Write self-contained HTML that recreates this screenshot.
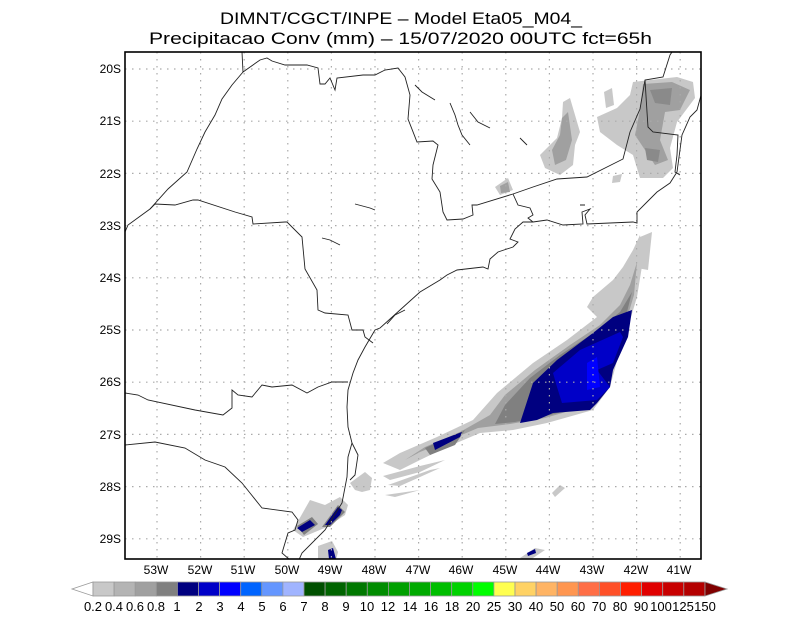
<!DOCTYPE html>
<html><head><meta charset="utf-8"><style>
html,body{margin:0;padding:0;background:#fff;width:800px;height:618px;overflow:hidden}
svg{display:block}
text{font-family:"Liberation Sans",sans-serif;fill:#000}
</style></head><body>
<svg width="800" height="618" viewBox="0 0 800 618" xmlns="http://www.w3.org/2000/svg">
<rect width="800" height="618" fill="#fff"/>
<text x="220" y="24" font-size="17" textLength="362" lengthAdjust="spacingAndGlyphs">DIMNT/CGCT/INPE –  Model Eta05_M04_</text>
<text x="149" y="44" font-size="17" textLength="503" lengthAdjust="spacingAndGlyphs">Precipitacao Conv (mm) – 15/07/2020 00UTC fct=65h</text>
<defs><clipPath id="c"><rect x="125" y="52" width="576" height="507"/></clipPath></defs>
<g clip-path="url(#c)">
<!-- precip north -->
<g fill="#c8c8c8">
<path d="M633,82 L677,77 693,82 695,98 677,122 670,148 673,168 663,178 640,178 633,155 617,145 600,132 597,117 617,108 630,95Z"/>
<path d="M563,102 L570,98 580,132 575,145 573,165 560,175 545,168 540,155 557,138 562,118Z"/>
<path d="M604,92 L612,88 614,105 606,108Z"/>
<path d="M495,187 L508,178 513,190 500,195Z"/>
<path d="M640,237 L652,232 648,270 637,268Z"/>
<path d="M613,176 L622,174 620,182 612,183Z"/>
</g>
<g fill="#a0a0a0">
<path d="M643,84 L672,82 690,90 680,110 665,112 660,140 668,160 655,165 645,150 635,135 640,110Z"/>
<path d="M562,118 L568,112 572,140 566,160 555,165 552,150 560,135Z"/>
<path d="M500,186 L508,182 510,192 501,193Z"/>
</g>
<g fill="#8a8a8a"><path d="M650,90 L672,88 670,105 655,103Z"/><path d="M645,148 L660,150 658,162 647,160Z"/></g>
<!-- big system -->
<path fill="#c8c8c8" d="M640,235 L643,260 637,297 628,327 620,350 610,387 593,410 547,423 513,430 480,433 447,447 420,460 400,470 383,463 400,453 437,437 473,420 497,393 533,363 567,340 597,317 587,307 593,297 613,280 623,267 633,250Z"/>
<path fill="#c8c8c8" d="M383,476 L420,466 445,460 420,472 390,480Z M388,485 L430,470 440,468 400,486Z M385,495 L420,490 395,497Z"/>
<path fill="#a0a0a0" d="M637,262 L634,295 625,325 615,355 605,390 590,405 545,418 510,424 478,428 445,442 420,452 405,460 425,447 460,432 490,415 505,395 535,370 570,345 600,325 620,305 630,285Z"/>
<path fill="#808080" d="M632,292 L625,320 615,350 605,385 590,405 550,415 515,422 495,424 505,405 530,378 560,355 595,332 620,312Z"/>
<path fill="#000080" d="M520,423 L533,383 557,360 593,333 613,317 632,310 628,337 613,370 610,387 597,403 590,410 553,413 537,420Z"/>
<path fill="#0000c8" d="M553,373 L580,350 620,332 623,337 613,363 597,370 610,387 597,400 562,403 557,387Z"/>
<path fill="#0000ff" d="M587,363 L597,357 600,387 587,390Z"/>
<path fill="#808080" d="M425,448 L465,430 455,445 430,455Z"/>
<path fill="#000080" d="M433,443 L462,432 460,437 435,450Z"/>
<!-- south -->
<g fill="#c8c8c8">
<path d="M350,483 L365,472 372,478 370,490 362,492 355,490Z"/>
<path d="M293,530 L310,500 325,505 340,497 348,505 345,515 327,527 303,537Z"/>
<path d="M318,546 L332,541 338,552 336,560 318,560Z"/>
<path d="M520,558 L535,548 545,550 530,560Z"/>
<path d="M552,493 L560,485 565,488 555,497Z"/>
</g>
<g fill="#808080"><path d="M297,526 L312,517 318,524 304,535Z"/><path d="M322,527 L338,505 345,512 330,527Z"/></g>
<g fill="#000080">
<path d="M297,528 L310,520 315,525 302,532Z"/>
<path d="M325,525 L338,507 342,510 340,515 330,525Z"/>
<path d="M328,550 L333,548 336,559 329,559Z"/>
<path d="M527,553 L535,549 536,553 528,556Z"/>
</g>
</g>
<!-- grid -->
<g stroke="#aaa" stroke-width="1.2" stroke-dasharray="1.5,5.5">
<path d="M157,52V559M200.6,52V559M244.2,52V559M287.8,52V559M331.4,52V559M375,52V559M418.6,52V559M462.2,52V559M505.8,52V559M549.4,52V559M593,52V559M636.6,52V559M680.2,52V559"/>
<path d="M125,69H701M125,121.2H701M125,173.4H701M125,225.6H701M125,277.8H701M125,330H701M125,382.2H701M125,434.4H701M125,486.6H701M125,538.8H701"/>
</g>
<!-- map lines -->
<g fill="none" stroke="#222" stroke-width="0.9" clip-path="url(#c)">
<path d="M242,52 L243,72 260,60 267,58 272,61 285,65 307,65 318,68 320,84 325,84 330,78 335,90 337,78 363,75 375,75 385,70 398,68 405,77 410,95 408,119 417,142 433,141 438,145 433,165 432,179 440,192 443,212 447,220 463,219 473,215 472,205 477,205 513,194 533,187 557,179 587,177 623,159 630,132 640,109 645,80 663,77 670,55 672,52"/>
<path d="M645,80 L647,112 648,127 653,132 678,135 677,155 675,172 680,175"/>
<path d="M703,88 L697,110 690,117 682,135 677,172 670,183 657,192 647,202 637,212 637,223 633,222 587,224 585,215 590,209 582,212 583,224 563,225 547,220 533,222 523,222 515,229 510,239 518,242 513,247 498,252 490,259 488,269 483,267 457,270 447,275 440,280 420,292 400,310 380,328 375,330 365,347 358,360 353,373 348,390 347,407 348,427 352,443 348,457 347,477 342,503 325,530 302,553 298,562"/>
<path d="M513,194 L518,205 530,208 533,215 528,218 533,222"/>
<path d="M243,72 L232,85 222,99 215,115 205,132 197,149 187,172 168,189 150,209 128,225 125,232"/>
<path d="M150,209 L155,204 175,205 193,200 198,200 235,212 252,217 253,224 285,222 287,222 302,237 305,269 317,290 318,310 325,313 348,315 352,330 363,330 365,337 373,343"/>
<path d="M125,393 L138,395 148,400 195,410 223,415 232,408 232,390 238,395 252,397 262,385 272,387 292,385 307,393 318,387 332,382 348,382"/>
<path d="M125,445 L155,442 185,448 205,460 225,467 242,483 250,493 262,508 292,512 298,520 295,530 288,533 282,553 290,560"/>
<path d="M352,443 L358,455 355,475 350,480"/>
<path d="M415,85 L422,92 435,100 M450,103 L455,115 458,125 462,135 470,145 M470,112 L478,122 490,128 M520,138 L527,145 M580,205 L585,205 M355,204 L370,208 375,210 M322,238 L330,240 340,245 M387,324 L395,315 405,310"/>
</g>
<rect x="125" y="52" width="576" height="507" fill="none" stroke="#000" stroke-width="1.6"/>
<!-- axis labels -->
<g font-size="12" text-anchor="end">
<text x="121" y="73">20S</text><text x="121" y="125">21S</text><text x="121" y="178">22S</text><text x="121" y="230">23S</text><text x="121" y="282">24S</text><text x="121" y="334">25S</text><text x="121" y="386">26S</text><text x="121" y="439">27S</text><text x="121" y="491">28S</text><text x="121" y="543">29S</text>
</g>
<g font-size="12" text-anchor="middle">
<text x="156" y="574">53W</text><text x="200" y="574">52W</text><text x="243" y="574">51W</text><text x="287" y="574">50W</text><text x="330" y="574">49W</text><text x="374" y="574">48W</text><text x="418" y="574">47W</text><text x="461" y="574">46W</text><text x="505" y="574">45W</text><text x="548" y="574">44W</text><text x="592" y="574">43W</text><text x="636" y="574">42W</text><text x="679" y="574">41W</text>
</g>
<!-- colorbar -->
<g stroke="#999" stroke-width="0.8">
<polygon points="93,582 72,589 93,596" fill="#fff"/>
<rect x="93.0" y="582" width="21.1" height="14" fill="#c8c8c8"/><rect x="114.1" y="582" width="21.1" height="14" fill="#b4b4b4"/><rect x="135.2" y="582" width="21.1" height="14" fill="#a0a0a0"/><rect x="156.3" y="582" width="21.1" height="14" fill="#808080"/>
<rect x="177.4" y="582" width="21.1" height="14" fill="#000080"/><rect x="198.5" y="582" width="21.1" height="14" fill="#0000c8"/><rect x="219.6" y="582" width="21.1" height="14" fill="#0000ff"/><rect x="240.7" y="582" width="21.1" height="14" fill="#0064ff"/><rect x="261.8" y="582" width="21.1" height="14" fill="#6496ff"/><rect x="282.9" y="582" width="21.1" height="14" fill="#a0b4ff"/>
<rect x="304.0" y="582" width="21.1" height="14" fill="#005000"/><rect x="325.1" y="582" width="21.1" height="14" fill="#006400"/><rect x="346.2" y="582" width="21.1" height="14" fill="#007800"/><rect x="367.3" y="582" width="21.1" height="14" fill="#008c00"/><rect x="388.4" y="582" width="21.1" height="14" fill="#00a000"/><rect x="409.5" y="582" width="21.1" height="14" fill="#00aa00"/><rect x="430.6" y="582" width="21.1" height="14" fill="#00be00"/><rect x="451.7" y="582" width="21.1" height="14" fill="#00d200"/><rect x="472.8" y="582" width="21.1" height="14" fill="#00ff00"/>
<rect x="493.9" y="582" width="21.1" height="14" fill="#ffff50"/><rect x="515.0" y="582" width="21.1" height="14" fill="#ffd264"/><rect x="536.1" y="582" width="21.1" height="14" fill="#ffb464"/><rect x="557.2" y="582" width="21.1" height="14" fill="#ff9650"/><rect x="578.3" y="582" width="21.1" height="14" fill="#ff6e46"/><rect x="599.4" y="582" width="21.1" height="14" fill="#ff5028"/><rect x="620.5" y="582" width="21.1" height="14" fill="#ff1e00"/><rect x="641.6" y="582" width="21.1" height="14" fill="#e00000"/><rect x="662.7" y="582" width="21.1" height="14" fill="#c80000"/><rect x="683.8" y="582" width="21.1" height="14" fill="#b40000"/>
<polygon points="705,582 727,589 705,596" fill="#800000"/>
</g>
<g font-size="13" text-anchor="middle">
<text x="93" y="611">0.2</text><text x="114" y="611">0.4</text><text x="135" y="611">0.6</text><text x="156" y="611">0.8</text><text x="177" y="611">1</text><text x="199" y="611">2</text><text x="220" y="611">3</text><text x="241" y="611">4</text><text x="262" y="611">5</text><text x="283" y="611">6</text><text x="304" y="611">7</text><text x="325" y="611">8</text><text x="346" y="611">9</text><text x="367" y="611">10</text><text x="388" y="611">12</text><text x="410" y="611">14</text><text x="431" y="611">16</text><text x="452" y="611">18</text><text x="473" y="611">20</text><text x="494" y="611">25</text><text x="515" y="611">30</text><text x="536" y="611">40</text><text x="557" y="611">50</text><text x="578" y="611">60</text><text x="599" y="611">70</text><text x="620" y="611">80</text><text x="641" y="611">90</text><text x="661" y="611">100</text><text x="683" y="611">125</text><text x="705" y="611">150</text>
</g>
</svg>
</body></html>
